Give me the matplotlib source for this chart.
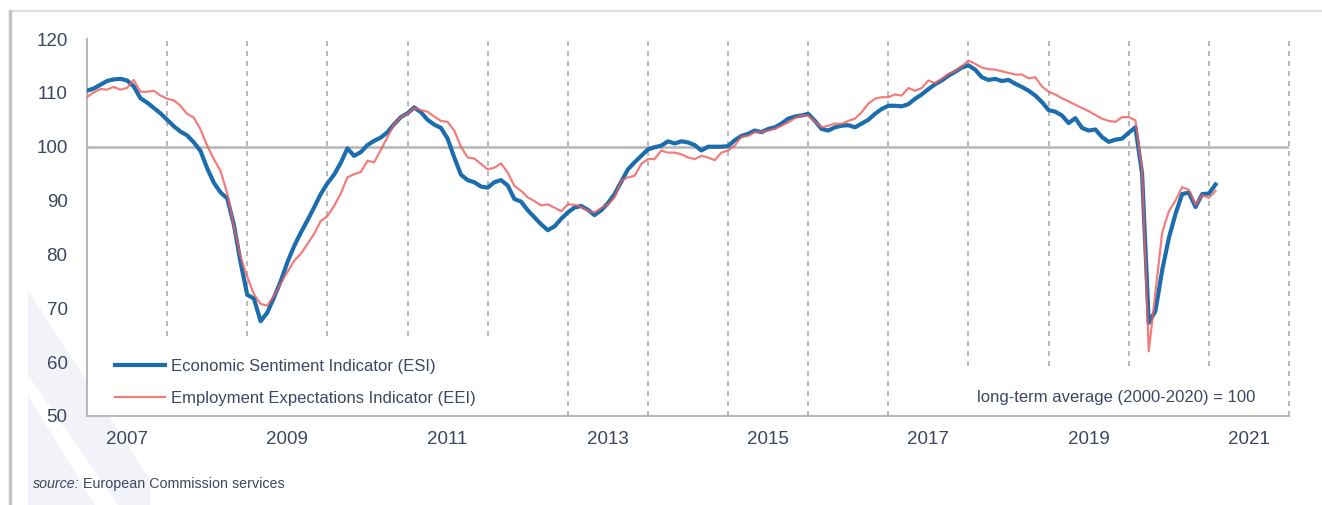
import numpy as np
import matplotlib.pyplot as plt
from matplotlib.patches import Rectangle, Polygon
from matplotlib.lines import Line2D

plt.rcParams['font.family'] = ['Liberation Sans', 'DejaVu Sans']

# monthly values, Jan 2007 .. Feb 2021
esi = [110.4, 110.8, 111.5, 112.2, 112.5, 112.6, 112.3, 111.2, 109.0, 108.2, 107.2, 106.2,
       105.0, 103.8, 102.8, 102.1, 100.8, 99.2, 96.0, 93.3, 91.5, 90.4, 85.5, 78.5,
       72.5, 71.8, 67.6, 69.2, 72.0, 75.0, 78.5, 81.5, 84.0, 86.3, 88.7, 91.2,
       93.2, 94.8, 97.0, 99.7, 98.3, 99.0, 100.3, 101.1, 101.7, 102.7, 104.2, 105.5,
       106.2, 107.3, 106.4, 105.0, 104.1, 103.5, 101.5, 98.0, 94.8, 93.8, 93.4, 92.6,
       92.4, 93.4, 93.8, 92.8, 90.3, 89.8, 88.2, 86.9, 85.6, 84.5, 85.2, 86.6,
       87.8, 88.7, 89.0, 88.3, 87.3, 88.2, 89.5, 91.2, 93.5, 95.8, 97.1, 98.3,
       99.5, 99.9, 100.2, 101.0, 100.6, 101.0, 100.8, 100.3, 99.3, 100.0, 100.0, 100.0,
       100.1, 101.2, 102.0, 102.4, 103.0, 102.7, 103.3, 103.6, 104.3, 105.2, 105.6, 105.8,
       106.1, 104.8, 103.3, 103.0, 103.6, 103.9, 104.0, 103.6, 104.3, 105.0, 106.1, 107.0,
       107.6, 107.6, 107.5, 107.9, 108.9, 109.7, 110.7, 111.6, 112.3, 113.2, 113.9, 114.7,
       115.1, 114.3, 112.9, 112.4, 112.6, 112.2, 112.4, 111.7, 111.1, 110.4, 109.5, 108.3,
       106.8, 106.5, 105.8, 104.4, 105.3, 103.5, 103.0, 103.2, 101.8, 100.9, 101.3, 101.5,
       102.6, 103.6, 95.0, 67.3, 69.5, 77.0, 83.0, 87.5, 91.2, 91.5, 88.8, 91.2,
       91.3, 93.0]

eei = [109.2, 110.1, 110.7, 110.6, 111.1, 110.6, 110.9, 112.4, 110.2, 110.2, 110.4, 109.5,
       108.9, 108.6, 107.6, 106.1, 105.4, 103.2, 100.2, 97.7, 95.5, 91.3, 85.2, 79.5,
       75.8, 72.6, 70.8, 70.5, 72.3, 74.6, 76.7, 78.8, 80.1, 81.9, 83.8, 86.2,
       87.1, 89.0, 91.3, 94.3, 94.9, 95.3, 97.4, 97.1, 99.4, 101.8, 104.2, 105.5,
       106.1, 107.2, 106.8, 106.5, 105.6, 104.8, 104.6, 103.0, 100.0, 98.0, 97.8, 96.8,
       95.8, 96.1, 96.9, 95.2, 92.7, 91.8, 90.6, 89.9, 89.1, 89.3, 88.7, 88.0,
       89.3, 89.2, 88.8, 88.1, 87.8, 88.6, 89.3, 90.6, 93.7, 94.3, 94.6, 96.8,
       97.7, 97.7, 99.3, 98.9, 98.9, 98.6, 98.0, 97.7, 98.3, 98.0, 97.5, 98.9,
       99.3, 100.2, 101.9, 102.0, 102.7, 102.7, 103.0, 103.3, 103.9, 104.5, 105.3, 105.8,
       105.8, 104.7, 103.6, 103.9, 104.3, 104.2, 104.8, 105.2, 106.4, 108.0, 108.9, 109.2,
       109.2, 109.7, 109.5, 110.9, 110.4, 110.9, 112.3, 111.8, 112.6, 113.5, 114.0, 114.9,
       116.0, 115.4, 114.7, 114.4, 114.3, 114.0, 113.7, 113.4, 113.4, 112.7, 112.9, 111.2,
       110.2, 109.7, 109.0, 108.4, 107.8, 107.2, 106.6, 105.9, 105.2, 104.8, 104.6, 105.5,
       105.5, 104.9, 95.5, 62.0, 73.0, 84.0, 88.0, 90.0, 92.5, 92.0, 89.2, 91.0,
       90.5, 91.8]

years = list(range(2007, 2022))
year_labels = [str(y) for y in years[::2]]
yticks = list(range(50, 121, 10))

W, H = 1322, 505
txt = '#3d4663'
blue = '#1c6dad'
red = '#ee5d5d'
grey = '#ababab'

fig = plt.figure(figsize=(W / 100, H / 100), dpi=100)
ax = fig.add_axes([87 / W, 1 - 416 / H, 1202 / W, 377 / H])

months = np.arange(len(esi))

# year boundaries
for i in range(1, len(years) + 1):
    ax.axvline(i * 12, color=grey, lw=1.2, dashes=(3, 3), zorder=1, clip_on=False)

ax.axhline(100, color='#b5b5b5', lw=1.8, zorder=1.2)

# white areas behind legend and note
ax.add_patch(Rectangle(((87 - 87) / 1202 * 180, 50), (502 - 87) / 1202 * 180, 79 / 5.386,
                       facecolor='white', edgecolor='none', zorder=1.5))
ax.add_patch(Rectangle(((960 - 87) / 1202 * 180, 50), (1275 - 960) / 1202 * 180, 48 / 5.386,
                       facecolor='white', edgecolor='none', zorder=1.5))

ax.plot(months, esi, color=blue, lw=3.0, zorder=3, solid_joinstyle='round',
        label='Economic Sentiment Indicator (ESI)')
ax.plot(months, eei, color=red, lw=1.6, alpha=0.8, zorder=4, solid_joinstyle='round',
        label='Employment Expectations Indicator (EEI)')

ax.set_xlim(0, 180)
ax.set_ylim(50, 120)
ax.set_yticks(yticks)
ax.set_xticks(np.arange(6, 180, 24))
ax.set_xticklabels(year_labels)
ax.tick_params(axis='both', length=0, labelsize=13.5, colors=txt)
ax.tick_params(axis='x', pad=11)
ax.tick_params(axis='y', pad=14)
for s in ['top', 'right']:
    ax.spines[s].set_visible(False)
for s in ['left', 'bottom']:
    ax.spines[s].set_color('#b8b8b8')
    ax.spines[s].set_linewidth(1.5)

leg = ax.legend(loc='lower left', bbox_to_anchor=(0.0165, 0.005), borderaxespad=0,
                frameon=False, fontsize=12, handlelength=3.0, handletextpad=0.35,
                labelspacing=1.0, borderpad=0.5)
for t in leg.get_texts():
    t.set_color(txt)

ax.text((1255 - 87) / 1202 * 180, 100 - (397 - 146) / 5.386, 'long-term average (2000-2020) = 100',
        ha='right', va='center', fontsize=12, color=txt, zorder=5)

# outer frame and faint watermark
fig.add_artist(Polygon([(28 / W, 1 - 290 / H), (150 / W, 1 - 480 / H), (150 / W, 0), (28 / W, 0)],
                       closed=True, transform=fig.transFigure, facecolor='#f2f3f9',
                       edgecolor='none', zorder=0))
fig.add_artist(Polygon([(28 / W, 1 - 375 / H), (28 / W, 1 - 395 / H), (95 / W, 0), (118 / W, 0)],
                       closed=True, transform=fig.transFigure, facecolor='white',
                       edgecolor='none', zorder=0))
fig.add_artist(Line2D([10 / W, 1], [1 - 11 / H, 1 - 11 / H], transform=fig.transFigure,
                      color='#dedede', lw=1.5))
fig.add_artist(Line2D([10 / W, 10 / W], [0, 1 - 11 / H], transform=fig.transFigure,
                      color='#c4c4c4', lw=2.5))

src1 = fig.text(33 / W, 1 - 484 / H, 'source:', fontsize=10.3, style='italic',
                color=txt, va='center', ha='left')
r = fig.canvas.get_renderer()
bb = src1.get_window_extent(renderer=r)
fig.text((bb.x1 + 3) / W, 1 - 484 / H, 'European Commission services', fontsize=10.3,
         color=txt, va='center', ha='left')

fig.savefig('out.png', dpi=100)
